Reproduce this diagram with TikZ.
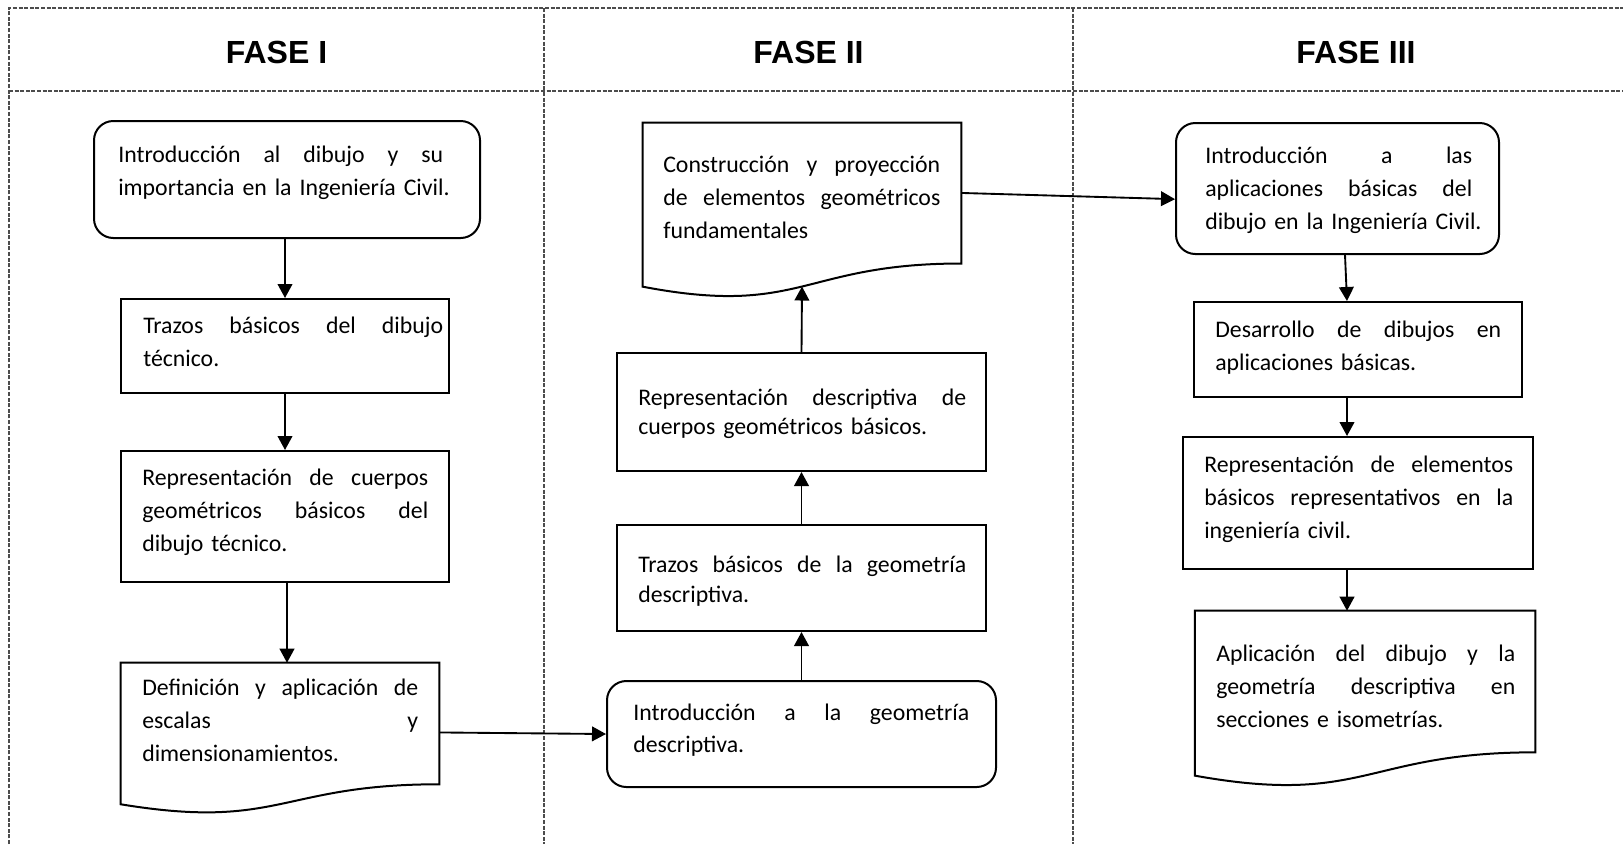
\documentclass[tikz,border=0pt]{standalone}
\usepackage{fontspec}
\setmainfont{Carlito}
\newfontfamily\hfont{Liberation Sans}
\usetikzlibrary{arrows.meta,calc,fit}
\newlength\jpx
\setlength\jpx{0.75pt}
\newcommand\jl[2]{\leavevmode\hbox to #1\jpx{\spaceskip=0.226em plus 1fil\relax #2}}
\newcommand\lastln[1]{\leavevmode\hbox{#1}}
\newcommand\docpath[1]{%
  \draw[docline] (#1.north west) -- (#1.north east)
    -- ($(#1.north east)!0.802!(#1.south east)$)
    .. controls ($(#1.north)!0.802!(#1.south)$) and ($(#1.north)!1.1075!(#1.south)$)
    .. ($(#1.north west)!0.934!(#1.south west)$) -- cycle;}
\begin{document}
\begin{tikzpicture}[x=0.75pt,y=-0.75pt,
  frame/.style={black!70,line width=0.8pt,dash pattern=on 3pt off 1.2pt},
  shp/.style={draw=black,line width=1.5pt,inner sep=0pt},
  rbox/.style={shp,rounded corners=14.5pt},
  sbox/.style={shp},
  dbox/.style={inner sep=0pt,draw=none},
  docline/.style={draw=black,line width=1.5pt,line join=miter},
  txt/.style={inner sep=0pt,anchor=base west,font=\fontsize{17.85pt}{25pt}\selectfont},
  hd/.style={inner sep=0pt,anchor=base,font=\hfont\bfseries\fontsize{24pt}{28pt}\selectfont},
  arr/.style={line width=1.4pt,-{Triangle[length=10.5pt,width=11pt]}},
]
\useasboundingbox (0,0) rectangle (1623,844);
% frame
\draw[frame] (9,844) -- (9,8) -- (1623,8);
\draw[frame] (9,91) -- (1623,91);
\draw[frame] (544,8) -- (544,844);
\draw[frame] (1073,8) -- (1073,844);
% headers
\node[hd] (h1) at (276.5,63) {FASE I};
\node[hd] (h2) at (808.5,63) {FASE II};
\node[hd] (h3) at (1356,63) {FASE III};
% phase I shapes
\node[rbox,fit={(94,121) (480,238)}] (a1) {};
\node[sbox,fit={(121,299) (449,393)}] (a2) {};
\node[sbox,fit={(121,451) (449,582)}] (a3) {};
\node[dbox,fit={(121,663) (439,814)}] (d1) {};
\docpath{d1}
% phase II shapes
\node[rbox,fit={(607,681) (996,787)}] (b1) {};
\node[sbox,fit={(617,525) (986,631)}] (b2) {};
\node[sbox,fit={(617,353) (986,471)}] (b3) {};
\node[dbox,fit={(643,123) (961,298)}] (d2) {};
\docpath{d2}
% phase III shapes
\node[rbox,fit={(1176,123) (1499,254)}] (c1) {};
\node[sbox,fit={(1194,302) (1522,397)}] (c2) {};
\node[sbox,fit={(1183,437) (1533,569)}] (c3) {};
\node[dbox,fit={(1195,611) (1535,787)}] (d3) {};
\docpath{d3}
% texts phase I
\node[txt,text width=330*0.75pt] (ta1) at (118,162)
  {\jl{325}{Introducción al dibujo y su}\\\lastln{importancia en la Ingeniería Civil.}};
\node[txt,text width=300*0.75pt] (ta2) at (143,333)
  {\jl{300}{Trazos básicos del dibujo}\\\lastln{técnico.}};
\node[txt,text width=286*0.75pt] (ta3) at (142,485)
  {\jl{286}{Representación de cuerpos}\\\jl{286}{geométricos\hskip0.226em plus 1fil básicos del}\\\lastln{dibujo técnico.}};
\node[txt,text width=276*0.75pt] (ta4) at (142,695)
  {\jl{276}{Definición y aplicación de}\\\jl{276}{escalas y}\\\lastln{dimensionamientos.}};
% texts phase II
\node[txt,text width=336*0.75pt,font=\fontsize{17.85pt}{24pt}\selectfont] (tb1) at (633,720)
  {\jl{336}{Introducción a la geometría}\\\lastln{descriptiva.}};
\node[txt,text width=328*0.75pt,font=\fontsize{17.85pt}{22.5pt}\selectfont] (tb2) at (638,572)
  {\jl{328}{Trazos básicos de la geometría}\\\lastln{descriptiva.}};
\node[txt,text width=328*0.75pt,font=\fontsize{17.85pt}{21.75pt}\selectfont] (tb3) at (638,405)
  {\jl{328}{Representación descriptiva de}\\\lastln{cuerpos geométricos básicos.}};
\node[txt,text width=277*0.75pt] (td2) at (663,172)
  {\jl{277}{Construcción y proyección}\\\jl{277}{de elementos geométricos}\\\lastln{fundamentales}};
% texts phase III
\node[txt,text width=267*0.75pt] (tc1) at (1205,163)
  {\jl{267}{Introducción a las}\\\jl{267}{aplicaciones básicas del}\\\lastln{dibujo en la Ingeniería Civil.}};
\node[txt,text width=286*0.75pt] (tc2) at (1215,337)
  {\jl{286}{Desarrollo de dibujos en}\\\lastln{aplicaciones básicas.}};
\node[txt,text width=309*0.75pt] (tc3) at (1204,472)
  {\jl{309}{Representación de elementos}\\\jl{309}{básicos representativos en la}\\\lastln{ingeniería civil.}};
\node[txt,text width=299*0.75pt] (td3) at (1216,661)
  {\jl{299}{Aplicación del dibujo y la}\\\jl{299}{geometría descriptiva en}\\\lastln{secciones e isometrías.}};
% connectors
\draw[arr] (a1.south -| a2.north) -- (a2.north);
\draw[arr] (a2.south) -- (a3.north);
\coordinate (a3s) at ($(a3.south)+(2,0)$);
\draw[arr] (a3s) -- (a3s |- d1.north);
\draw[arr] ($(d1.north east)!0.46!(d1.south east)$) -- (b1.west);
\draw[arr] (b1.north) -- (b2.south);
\draw[arr] (b2.north) -- (b3.south);
\draw[arr] (b3.north) -- ($(d2.north)!0.933!(d2.south)$);
\draw[arr] ($(d2.north east)!0.40!(d2.south east)$) -- ($(c1.north west)!0.58!(c1.south west)$);
\draw[arr] ($(c1.south)+(7.5,0)$) -- ($(c2.north)+(-11,0)$);
\draw[arr] ($(c2.south)+(-11,0)$) -- ($(c3.north)+(-11,0)$);
\coordinate (c3s) at ($(c3.south)+(-11,0)$);
\draw[arr] (c3s) -- (c3s |- d3.north);
\end{tikzpicture}
\end{document}
